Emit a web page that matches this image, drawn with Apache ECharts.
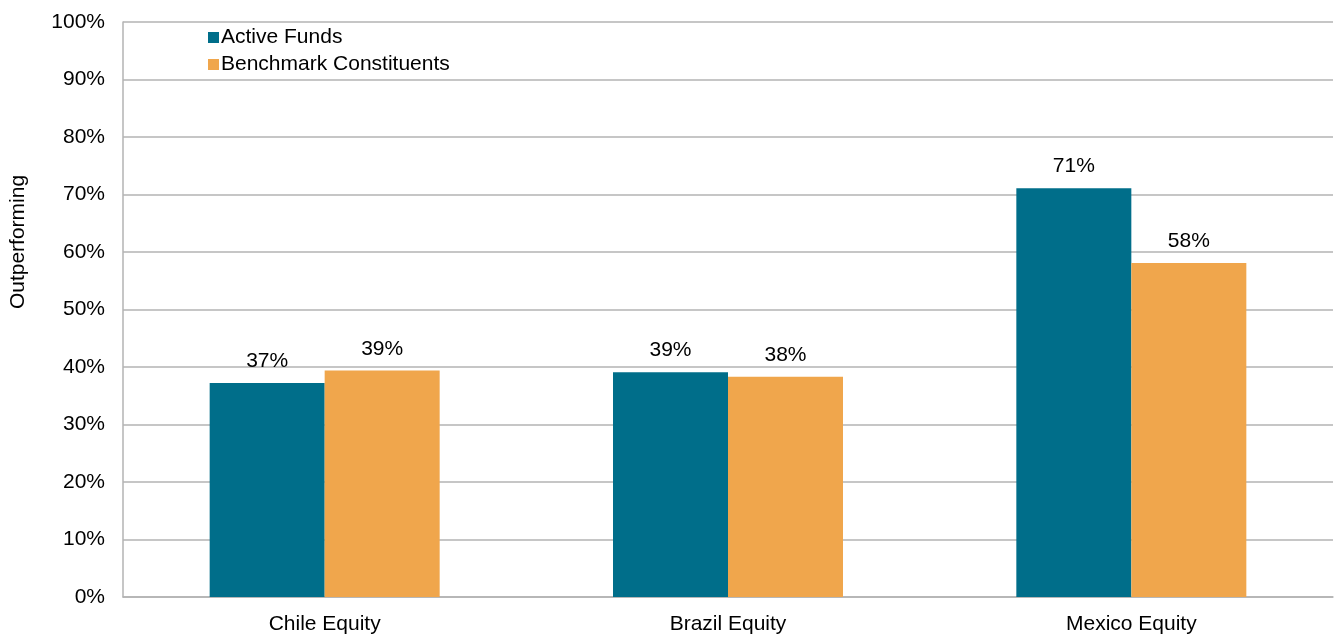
<!DOCTYPE html>
<html><head><meta charset="utf-8">
<script src="https://cdn.jsdelivr.net/npm/echarts@6/dist/echarts.min.js"></script>
<style>html,body{margin:0;padding:0;background:#fff}#c{width:1335px;height:635px}</style>
</head><body><div id="c"></div>
<script>
const categories = ["Chile Equity", "Brazil Equity", "Mexico Equity"];
const activeFunds = [37.2, 39.1, 71.1];
const benchmarkConstituents = [39.4, 38.3, 58.1];
const yTicks = [0, 10, 20, 30, 40, 50, 60, 70, 80, 90, 100];

const font = "'Liberation Sans', Arial, sans-serif";
const fs = 21;
const chart = echarts.init(document.getElementById('c'));
chart.setOption({
  animation: false,
  textStyle: {fontFamily: font},
  grid: {left: 123, right: 2, top: 22, bottom: 38},
  legend: {
    orient: 'vertical', left: 203, top: 22, itemWidth: 11, itemHeight: 11, itemGap: 6,
    icon: 'rect',
    textStyle: {fontFamily: font, fontSize: fs, color: '#000', padding: [0,0,0,-3]},
    data: ['Active Funds', 'Benchmark Constituents']
  },
  graphic: [{
    type: 'text', x: 18, y: 242, rotation: Math.PI / 2,
    style: {text: 'Outperforming', font: fs + "px 'Liberation Sans', Arial, sans-serif", fill: '#000', textAlign: 'center', textVerticalAlign: 'middle'}
  }],
  xAxis: {
    type: 'category', data: categories,
    axisLine: {lineStyle: {color: '#b3b3b3', width: 1.5}},
    axisTick: {show: false},
    axisLabel: {fontFamily: font, fontSize: fs, color: '#000', margin: 17}
  },
  yAxis: {
    type: 'value', min: yTicks[0], max: yTicks[yTicks.length - 1], interval: 10,
    axisLine: {show: true, lineStyle: {color: '#b3b3b3', width: 1.5}},
    axisTick: {show: false},
    splitLine: {lineStyle: {color: '#b3b3b3', width: 1.5}},
    axisLabel: {fontFamily: font, fontSize: fs, color: '#000', margin: 18, formatter: v => v + '%'}
  },
  series: [
    {name: 'Active Funds', type: 'bar', data: activeFunds, barWidth: 115, barGap: '0%',
     itemStyle: {color: '#006E8A'},
     label: {show: true, position: 'top', distance: 11, fontFamily: font, fontSize: fs, color: '#000', formatter: p => Math.round(p.value) + '%'}},
    {name: 'Benchmark Constituents', type: 'bar', data: benchmarkConstituents, barWidth: 115,
     itemStyle: {color: '#F0A64C'},
     label: {show: true, position: 'top', distance: 11, fontFamily: font, fontSize: fs, color: '#000', formatter: p => Math.round(p.value) + '%'}}
  ]
});
</script></body></html>
